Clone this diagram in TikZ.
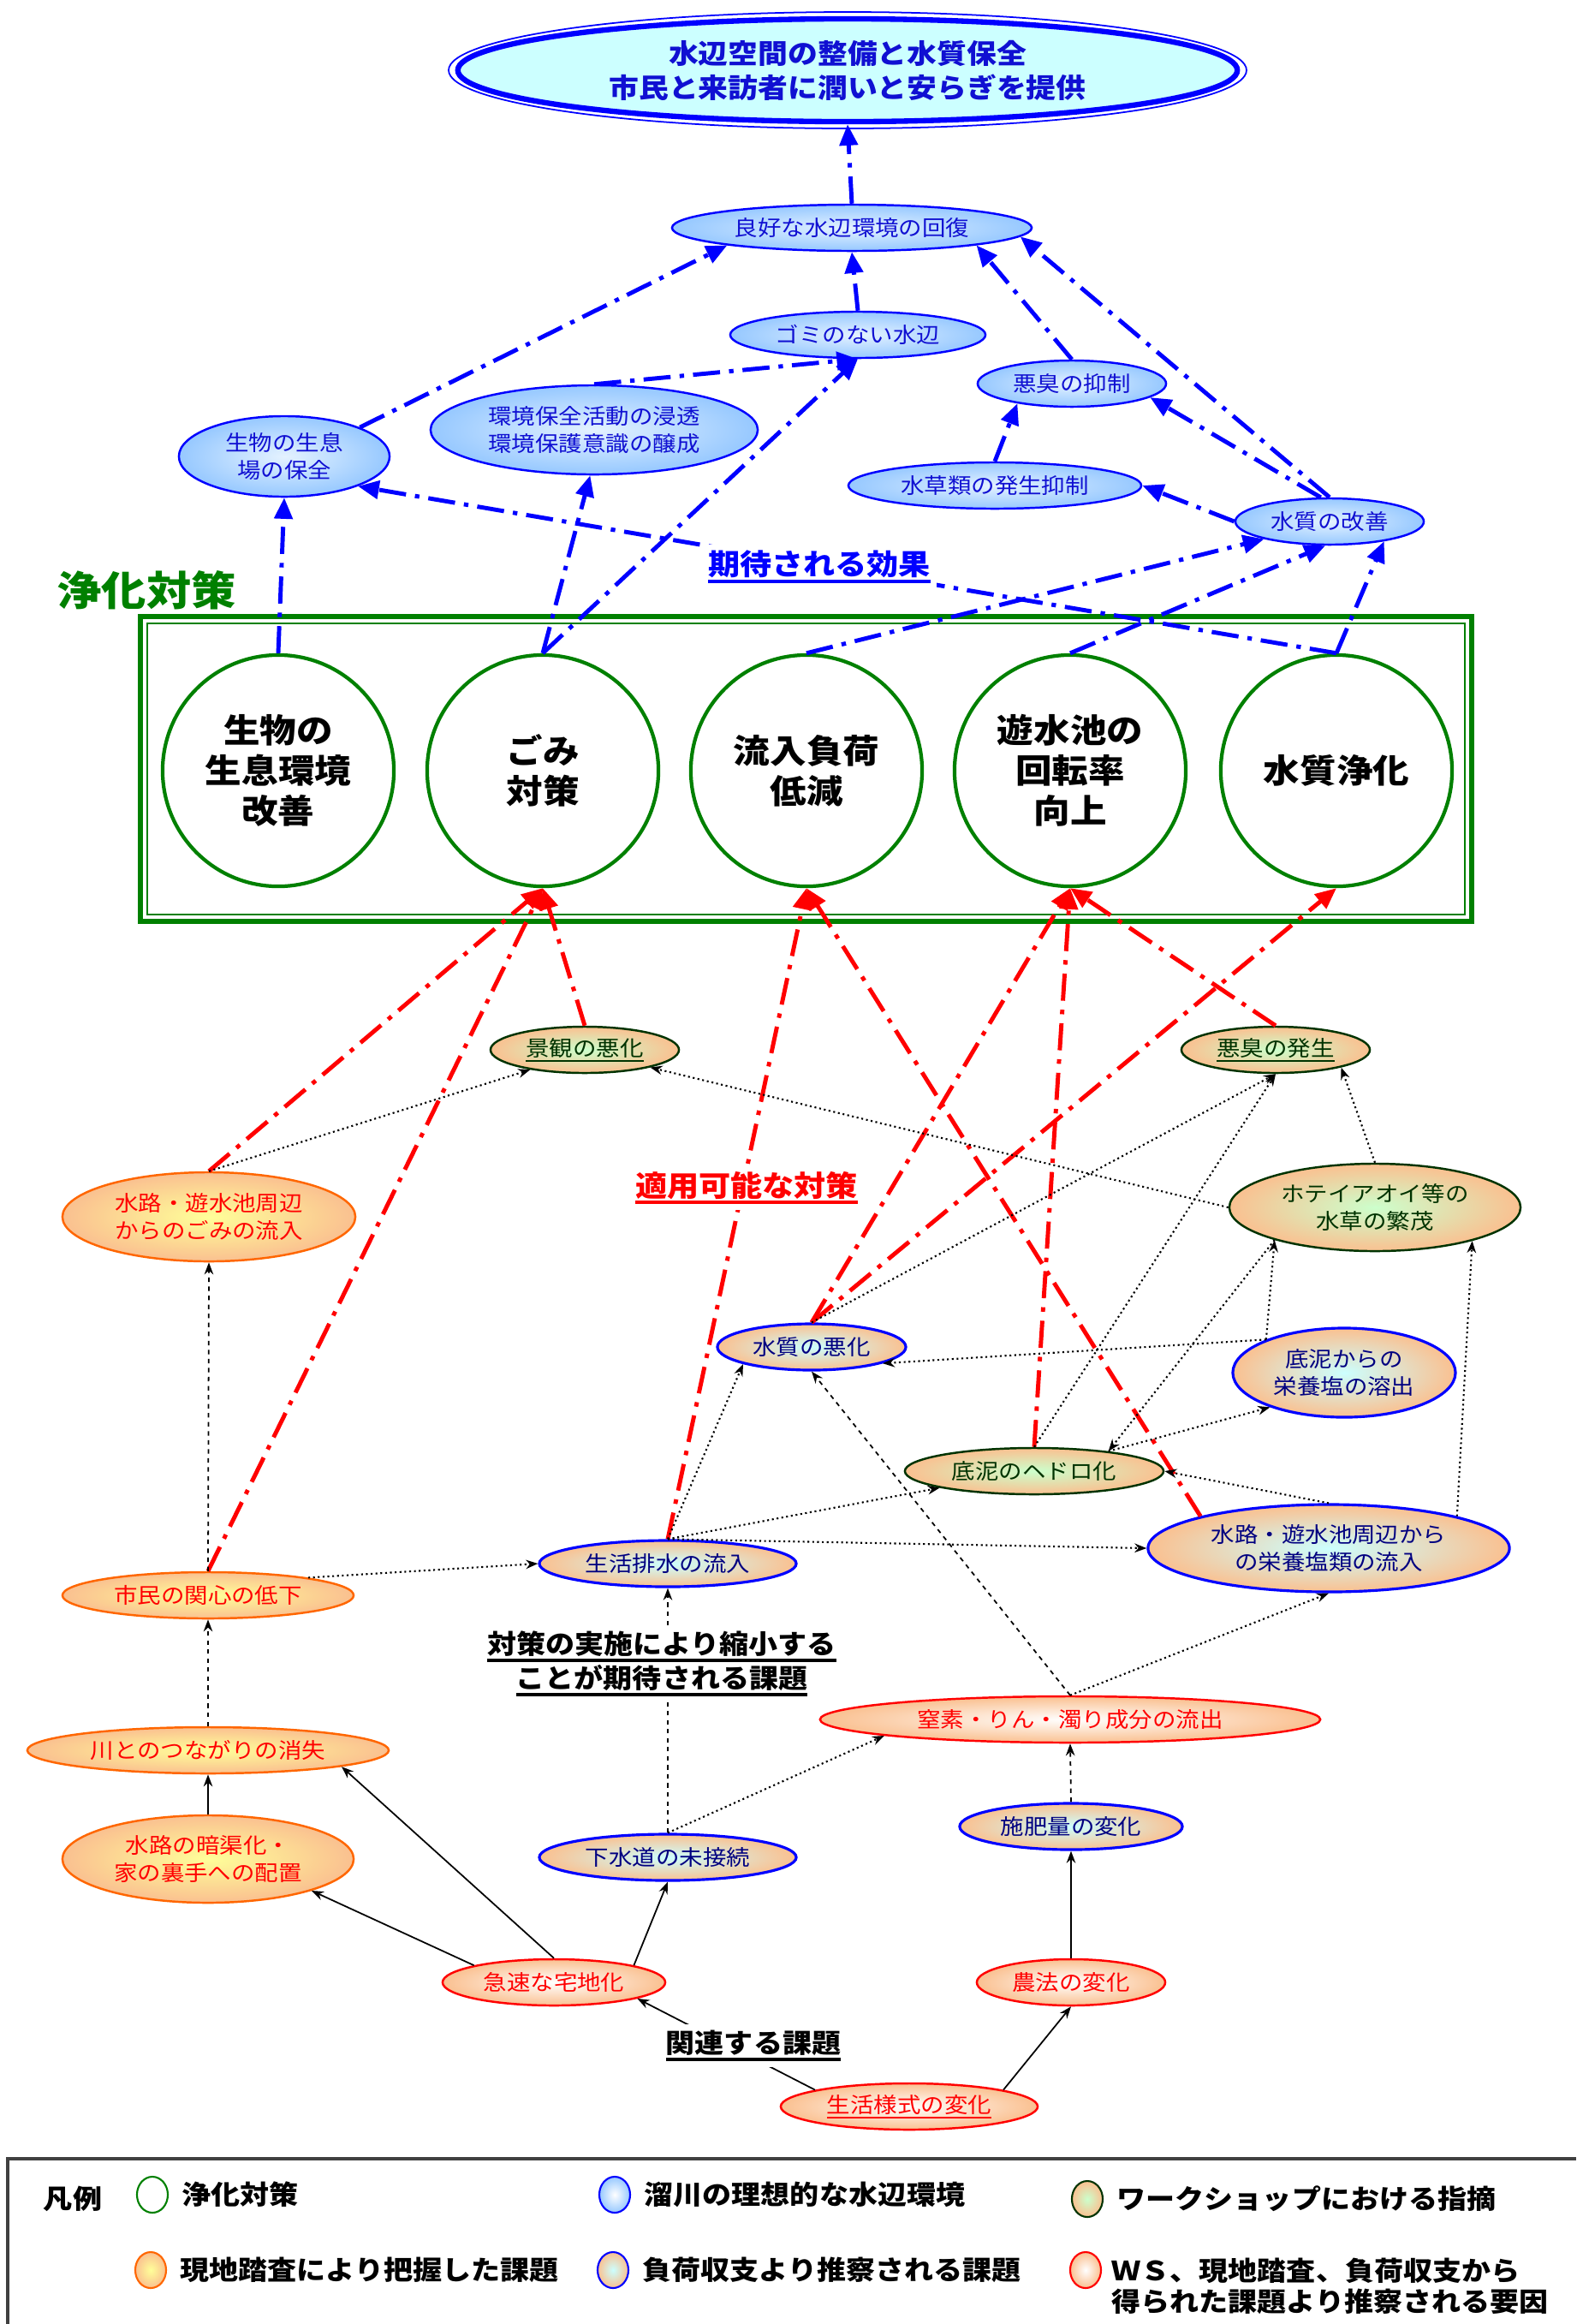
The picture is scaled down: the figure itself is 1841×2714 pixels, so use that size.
\documentclass[tikz,border=0pt]{standalone}
\usepackage{fontspec}
\setmainfont{Noto Sans CJK JP}[FakeStretch=1.1]
\usetikzlibrary{shapes.geometric, arrows.meta, positioning}
\definecolor{effblue}{RGB}{0,0,255}
\definecolor{efftext}{RGB}{16,16,210}
\definecolor{effout}{RGB}{150,200,255}
\definecolor{effin}{RGB}{228,242,255}
\definecolor{goalfill}{RGB}{204,255,255}
\definecolor{peach}{RGB}{250,192,144}
\definecolor{yelin}{RGB}{255,255,153}
\definecolor{cyanin}{RGB}{204,255,255}
\definecolor{greenin}{RGB}{204,255,204}
\definecolor{oriborder}{RGB}{255,102,0}
\definecolor{wsgreen}{RGB}{0,51,0}
\definecolor{navytext}{RGB}{0,0,128}
\definecolor{jokagreen}{RGB}{0,128,0}
\definecolor{probred}{RGB}{255,0,0}
\newcommand{\nodefont}{\fontsize{7.1}{9.1}\selectfont}
% underline of a given thickness
\newcommand{\ulwith}[3]{{\setbox0\hbox{#3}\rlap{\rule[-#2]{\wd0}{#1}}\box0}}
\newcommand{\thickul}[1]{\ulwith{1.1pt}{2.6pt}{#1}}
\newcommand{\thinul}[1]{\ulwith{0.6pt}{1.8pt}{#1}}

\begin{document}
\begin{tikzpicture}[x=0.01cm, y=-0.01cm,
  effect/.style={ellipse, draw=effblue, line width=0.7pt, inner color=effin, outer color=effout, text=efftext, font=\nodefont, align=center, inner sep=0pt},
  prob/.style={ellipse, line width=0.7pt, outer color=peach, font=\nodefont, align=center, inner sep=0pt},
  probori/.style={prob, draw=oriborder, inner color=yelin, text=probred},
  probblue/.style={prob, draw=effblue, line width=0.9pt, inner color=cyanin, text=navytext},
  probws/.style={prob, draw=wsgreen, inner color=greenin, text=wsgreen},
  probcause/.style={prob, draw=probred, inner color=white, text=probred},
  taisaku/.style={circle, draw=jokagreen, line width=1.2pt, fill=white, minimum size=27mm, inner sep=0pt, align=center, font=\bfseries\fontsize{11}{13.4}\selectfont},
  effarrow/.style={draw=effblue, line width=1.4pt, dash pattern=on 9pt off 3pt on 1.5pt off 3pt, -{Triangle[length=7pt,width=6pt]}},
  taiarrow/.style={effarrow, draw=probred},
  link/.style={draw=black, line width=0.5pt, -{Stealth[length=4pt,width=3pt]}},
  dotlink/.style={link, line width=0.6pt, densely dotted},
  dashlink/.style={link, dash pattern=on 1.5pt off 1.5pt},
  notebox/.style={fill=white, inner sep=2pt, align=center, font=\bfseries\fontsize{8.8}{10.2}\selectfont},
  icon/.style={ellipse, line width=0.6pt, minimum width=3.6mm, minimum height=4.2mm, inner sep=0pt},
  legendtext/.style={font=\bfseries\fontsize{8.8}{10.2}\selectfont, inner sep=0pt, align=left},
]
\useasboundingbox (0,0) rectangle (1841,2714);

% 目標
\node[ellipse, draw=effblue, line width=1.8pt, fill=goalfill, text=efftext, minimum width=91mm, minimum height=12mm, inner sep=0pt, align=center, font=\bfseries\fontsize{9}{11.4}\selectfont] (goal) at (990,82) {水辺空間の整備と水質保全\\市民と来訪者に潤いと安らぎを提供};
\draw[effblue, line width=0.5pt] (goal.center) ellipse [x radius=466, y radius=68];

% 期待される効果
\node[effect, minimum width=42mm, minimum height=5.4mm] (kaifuku) at (995,266) {良好な水辺環境の回復};
\node[effect, minimum width=29.8mm, minimum height=5.4mm] (gominai) at (1002,391) {ゴミのない水辺};
\node[effect, minimum width=22mm, minimum height=5.4mm] (akushuyokusei) at (1252,448) {悪臭の抑制};
\node[effect, minimum width=24.6mm, minimum height=9.4mm] (seibutsuhozen) at (332,533) {生物の生息\\場の保全};
\node[effect, minimum width=38.2mm, minimum height=10.4mm] (ishiki) at (694,502) {環境保全活動の浸透\\環境保護意識の醸成};
\node[effect, minimum width=34.2mm, minimum height=5.4mm] (suisouyokusei) at (1162,567) {水草類の発生抑制};
\node[effect, minimum width=22mm, minimum height=5.4mm] (suishitsukaizen) at (1553,609) {水質の改善};

% 浄化対策
\draw[jokagreen, line width=1.7pt] (164,720) rectangle (1719,1076);
\draw[jokagreen, line width=0.5pt] (172,728) rectangle (1711,1068);
\node[taisaku] (seisoku) at (325,900) {生物の\\生息環境\\改善};
\node[taisaku] (gomitaisaku) at (634,900) {ごみ\\対策};
\node[taisaku] (fukateigen) at (942,900) {流入負荷\\低減};
\node[taisaku] (kaiten) at (1250,900) {遊水池の\\回転率\\向上};
\node[taisaku] (joka) at (1561,900) {水質浄化};

% 課題
\node[probws, minimum width=22mm, minimum height=5.4mm] (keikan) at (683,1226) {\thinul{景観の悪化}};
\node[probori, minimum width=34.2mm, minimum height=10.4mm] (gomiryunyu) at (244,1421) {水路・遊水池周辺\\からのごみの流入};
\node[probws, minimum width=22mm, minimum height=5.4mm] (akushu) at (1490,1226) {\thinul{悪臭の発生}};
\node[probws, minimum width=34mm, minimum height=10.2mm] (hoteiaoi) at (1606,1410) {ホテイアオイ等の\\水草の繁茂};
\node[probblue, minimum width=26mm, minimum height=10.4mm] (yoshutsu) at (1570,1603) {底泥からの\\栄養塩の溶出};
\node[probblue, minimum width=22mm, minimum height=5.4mm] (akka) at (948,1573) {水質の悪化};
\node[probws, minimum width=30.2mm, minimum height=5.4mm] (hedoro) at (1208,1718) {底泥のヘドロ化};
\node[probblue, minimum width=42.2mm, minimum height=10.2mm] (eiyoen) at (1552,1808) {水路・遊水池周辺から\\の栄養塩類の流入};
\node[probblue, minimum width=30mm, minimum height=5.4mm] (haisui) at (780,1826) {生活排水の流入};
\node[probori, minimum width=34mm, minimum height=5.4mm] (kanshin) at (243,1863) {市民の関心の低下};
\node[probori, minimum width=42.2mm, minimum height=5.4mm] (tsunagari) at (243,2044) {川とのつながりの消失};
\node[probcause, minimum width=58.4mm, minimum height=5.4mm] (ryushutsu) at (1250,2008) {窒素・りん・濁り成分の流出};
\node[probblue, minimum width=26mm, minimum height=5.4mm] (sehi) at (1251,2133) {施肥量の変化};
\node[probblue, minimum width=30mm, minimum height=5.4mm] (gesui) at (780,2169) {下水道の未接続};
\node[probori, minimum width=34mm, minimum height=10.2mm] (ankyo) at (243,2171) {水路の暗渠化・\\家の裏手への配置};
\node[probcause, minimum width=26mm, minimum height=5.4mm] (takuchi) at (647,2315) {急速な宅地化};
\node[probcause, minimum width=22mm, minimum height=5.4mm] (noho) at (1251,2315) {農法の変化};
\node[probcause, minimum width=30mm, minimum height=5.4mm] (seikatsu) at (1062,2460) {\thinul{生活様式の変化}};

% 効果の矢印
\draw[effarrow] (kaifuku.north) -- (goal.south);
\draw[effarrow] (gominai.north) -- (kaifuku.south);
\draw[effarrow] (seibutsuhozen.21) -- (kaifuku.188);
\draw[effarrow] (akushuyokusei.north) -- (kaifuku.-8);
\draw[effarrow] (suishitsukaizen.north) -- (kaifuku.-3);
\draw[effarrow] (ishiki.north) -- (gominai.south);
\draw[effarrow] (gomitaisaku.north) -- (gominai.south);
\draw[effarrow] (suisouyokusei.north) -- (akushuyokusei.200);
\draw[effarrow] (suishitsukaizen.110) -- (akushuyokusei.-10);
\draw[effarrow] (suishitsukaizen.west) -- (suisouyokusei.east);
\draw[effarrow] (gomitaisaku.north) -- (ishiki.265);
\draw[effarrow] (seisoku.north) -- (seibutsuhozen.south);
\draw[effarrow] (fukateigen.north) -- (suishitsukaizen.195);
\draw[effarrow] (kaiten.north) -- (suishitsukaizen.260);
\draw[effarrow] (joka.north) -- (suishitsukaizen.-20);
\draw[effarrow] (joka.north) -- (seibutsuhozen.-22);

% 対策の矢印
\draw[taiarrow] (keikan.north) -- (gomitaisaku.south);
\draw[taiarrow] (gomiryunyu.north) -- (gomitaisaku.south);
\draw[taiarrow] (kanshin.north) -- (gomitaisaku.south);
\draw[taiarrow] (haisui.north) -- (fukateigen.south);
\draw[taiarrow] (eiyoen.166) -- (fukateigen.south);
\draw[taiarrow] (akka.north) -- (kaiten.south);
\draw[taiarrow] (hedoro.north) -- (kaiten.south);
\draw[taiarrow] (akushu.north) -- (kaiten.south);
\draw[taiarrow] (akka.north) -- (joka.south);

% 課題のつながり
\draw[link] (takuchi.168) -- (ankyo.-17);
\draw[link] (takuchi.north) -- (tsunagari.-7);
\draw[link] (takuchi.12) -- (gesui.south);
\draw[link] (ankyo.north) -- (tsunagari.south);
\draw[link] (seikatsu.170) -- (takuchi.-11);
\draw[link] (seikatsu.10) -- (noho.south);
\draw[link] (noho.north) -- (sehi.south);
\draw[dashlink] (sehi.north) -- (ryushutsu.south);
\draw[dotlink] (gesui.north) -- (ryushutsu.185);
\draw[dashlink] (gesui.north) -- (haisui.south);
\draw[dotlink] (ryushutsu.north) -- (eiyoen.south);
\draw[dashlink] (ryushutsu.north) -- (akka.south);
\draw[dashlink] (tsunagari.north) -- (kanshin.south);
\draw[dotlink] (kanshin.10) -- (haisui.west);
\draw[dashlink] (kanshin.north) -- (gomiryunyu.south);
\draw[dotlink] (gomiryunyu.north) -- (keikan.200);
\draw[dotlink] (hoteiaoi.west) -- (keikan.-15);
\draw[dotlink] (hoteiaoi.north) -- (akushu.-15);
\draw[dotlink] (akka.north) -- (akushu.south);
\draw[dotlink] (hedoro.north) -- (akushu.south);
\draw[dotlink] (yoshutsu.157) -- (akka.-13);
\draw[dotlink] (yoshutsu.157) -- (hoteiaoi.198);
\draw[dotlink] (hoteiaoi.198) -- (hedoro.15);
\draw[dotlink] (hedoro.15) -- (yoshutsu.205);
\draw[dotlink] (haisui.north) -- (hedoro.190);
\draw[dotlink] (haisui.north) -- (eiyoen.west);
\draw[dotlink] (haisui.north) -- (akka.194);
\draw[dotlink] (eiyoen.north) -- (hedoro.east);
\draw[dotlink] (eiyoen.14) -- (hoteiaoi.-19);

% 見出し
\node[text=jokagreen, font=\bfseries\fontsize{13.5}{16}\selectfont] (jokatitle) at (171,689) {浄化対策};
\node[notebox, text=effblue, font=\bfseries\fontsize{9.6}{12}\selectfont] (kouka) at (957,662) {\thickul{期待される効果}};
\node[notebox, text=probred, font=\bfseries\fontsize{9.6}{12}\selectfont] (tekiyo) at (872,1387) {\thickul{適用可能な対策}};
\node[notebox] (shukusho) at (773,1943) {\thickul{対策の実施により縮小する}\\\thickul{ことが期待される課題}};
\node[notebox] (kanren) at (880,2389) {\thickul{関連する課題}};

% 凡例
\draw[line width=1pt, black!75] (9,2714) -- (9,2521) -- (1841,2521);
\node[legendtext] (hanrei) at (85,2568) {凡例};
\node[icon, draw=jokagreen, fill=white] (iconjoka) at (178,2563) {};
\node[legendtext, right=1.5mm of iconjoka] (txtjoka) {浄化対策};
\node[icon, draw=effblue, inner color=white, outer color=effout] (iconeff) at (718,2563) {};
\node[legendtext, right=1.5mm of iconeff] (txteff) {溜川の理想的な水辺環境};
\node[icon, draw=wsgreen, inner color=greenin, outer color=peach] (iconws) at (1270,2568) {};
\node[legendtext, right=1.5mm of iconws] (txtws) {ワークショップにおける指摘};
\node[icon, draw=oriborder, inner color=yelin, outer color=peach] (iconori) at (176,2651) {};
\node[legendtext, right=1.5mm of iconori] (txtori) {現地踏査により把握した課題};
\node[icon, draw=effblue, inner color=cyanin, outer color=peach] (iconblue) at (716,2651) {};
\node[legendtext, right=1.5mm of iconblue] (txtblue) {負荷収支より推察される課題};
\node[icon, draw=probred, inner color=white, outer color=peach] (iconcause) at (1268,2651) {};
\node[legendtext, anchor=west] (txtcause) at (1298,2670) {ＷＳ、現地踏査、負荷収支から\\得られた課題より推察される要因};
\end{tikzpicture}
\end{document}
